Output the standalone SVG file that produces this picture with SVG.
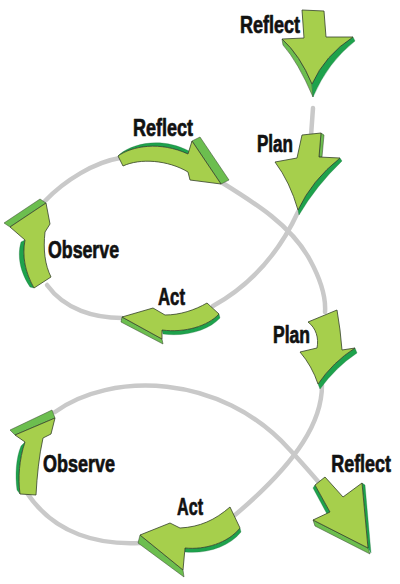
<svg xmlns="http://www.w3.org/2000/svg" width="400" height="584" viewBox="0 0 400 584">
<style>
.face{fill:#a6cf4c;stroke:#33402a;stroke-width:0.8;stroke-linejoin:round}
.side{fill:#6cbe4f;stroke:#33402a;stroke-width:0.5;stroke-linejoin:round}
.dark{fill:#1ea24c;stroke:#1a6b35;stroke-width:0.3}
.link{fill:none;stroke:#c9c9c9;stroke-width:4.5;stroke-linecap:round}
.lbl{font-family:"Liberation Sans",Arial,sans-serif;font-weight:bold;font-size:23px;fill:#111;stroke:#111;stroke-width:0.7;stroke-linejoin:round}
</style>
<rect width="400" height="584" fill="#ffffff"/>
<g id="connectors">
  <path class="link" d="M313,108 L311,136"/>
  <path class="link" d="M221,182 C255,203 292,226 310,260 C322,282 326,298 325,312"/>
  <path class="link" d="M298,212 C285,240 260,280 213,306"/>
  <path class="link" d="M122,318 C95,318 65,310 47,285"/>
  <path class="link" d="M45,201 C65,180 95,162 120,158"/>
  <path class="link" d="M322,385 C322,420 300,460 235,515"/>
  <path class="link" d="M55,412 C110,372 220,372 290,450 C305,466 315,478 322,486"/>
  <path class="link" d="M140,543 C100,545 55,535 27,493"/>
</g>
<g id="reflect-top">
  <path class="side" d="M282,39 Q300,55 312,84 L313,97 Q298,62 283,45 Z"/>
  <path class="dark" d="M353,37 Q325,55 312,84 L313,97 Q328,62 355,41 Z"/>
  <path class="face" d="M302,10 L324,11 L326,37 L353,37 Q325,55 312,84 Q300,55 282,39 L304,38 Z"/>
  <text class="lbl" x="240" y="33" textLength="60" lengthAdjust="spacingAndGlyphs">Reflect</text>
</g>
<g id="plan-1">
  <path class="side" d="M321,133 L324,135 L322,157 L319,157 Z"/>
  <path class="dark" d="M340,158 Q312,180 298,210 L299,215 Q316,186 342,161 Z"/>
  <path class="face" d="M302,135 L321,133 L319,157 L340,158 Q312,180 298,210 Q290,182 275,162 L297,158 Z"/>
  <text class="lbl" x="257" y="152" textLength="36" lengthAdjust="spacingAndGlyphs">Plan</text>
</g>
<g id="reflect-1">
  <path class="dark" d="M120,154 C134,143 162,137 189,151 L188,154 C160,141 132,146 118,156 Z"/>
  <path class="side" d="M192,141 L200,137 L229,180 L221,184 Z"/>
  <path class="face" d="M118,156 C132,146 160,141 188,154 L192,141 L221,184 L190,180 L188,172 C168,160 140,158 123,166 Z"/>
  <text class="lbl" x="133" y="136" textLength="60" lengthAdjust="spacingAndGlyphs">Reflect</text>
</g>
<g id="observe-1">
  <path class="side" d="M4,223 L40,199 L46,203 L10,227 Z"/>
  <path class="dark" d="M25,240 C22,256 25,272 34,288 L30,287 C20,272 17,256 21,242 Z"/>
  <path class="face" d="M10,227 L46,203 L50,224 L45,232 C43,250 45,265 51,277 L34,288 C25,272 22,256 25,240 Z"/>
  <text class="lbl" x="48" y="258" textLength="71" lengthAdjust="spacingAndGlyphs">Observe</text>
</g>
<g id="act-1">
  <path class="side" d="M122,317 L162,339 L163,344 L121,322 Z"/>
  <path class="dark" d="M162,330 C185,333 208,326 219,314 L220,318 C209,330 186,337 163,334 Z"/>
  <path class="face" d="M207,303 C195,310 180,315 165,315 L153,308 L122,317 L162,339 L162,330 C185,333 208,326 219,314 Z"/>
  <text class="lbl" x="158" y="305" textLength="27" lengthAdjust="spacingAndGlyphs">Act</text>
</g>
<g id="plan-2">
  <path class="dark" d="M355,348 Q333,362 318,384 L320,389 Q336,367 357,353 Z"/>
  <path class="face" d="M308,322 L337,310 L340,330 L342,350 L355,348 Q333,362 318,384 Q312,366 300,352 L317,348 C319,338 316,328 308,322 Z"/>
  <text class="lbl" x="273" y="343" textLength="37" lengthAdjust="spacingAndGlyphs">Plan</text>
</g>
<g id="observe-2">
  <path class="side" d="M10,430 L52,410 L55,418 L15,435 Z"/>
  <path class="dark" d="M25,442 C19,460 18,478 20,494 L17,490 C15,475 16,458 21,446 Z"/>
  <path class="face" d="M15,435 L55,418 L51,434 L43,438 C39,456 37,476 36,495 L20,494 C18,478 19,460 25,442 Z"/>
  <text class="lbl" x="43" y="472" textLength="72" lengthAdjust="spacingAndGlyphs">Observe</text>
</g>
<g id="act-2">
  <path class="side" d="M140,535 L183,570 L184,577 L138,543 Z"/>
  <path class="dark" d="M185,548 C205,550 228,543 240,528 L241,532 C229,547 206,554 185,552 Z"/>
  <path class="face" d="M230,507 C215,520 200,527 180,528 L170,523 L140,535 L183,570 L185,548 C205,550 228,543 240,528 Z"/>
  <text class="lbl" x="177" y="515" textLength="26" lengthAdjust="spacingAndGlyphs">Act</text>
</g>
<g id="reflect-2">
  <path class="side" d="M313,520 L368,548 L370,554 L315,526 Z"/>
  <path class="dark" d="M362,483 L365,485 L371,553 L368,548 Z"/>
  <path class="dark" d="M315,485 L330,512 L327,514 L313,488 Z"/>
  <path class="face" d="M315,485 L325,477 L343,497 L362,483 L368,548 L313,520 L330,512 Z"/>
  <text class="lbl" transform="translate(391,472) scale(0.78,1)" x="0" y="0" text-anchor="end">Reflect</text>
</g>
</svg>
